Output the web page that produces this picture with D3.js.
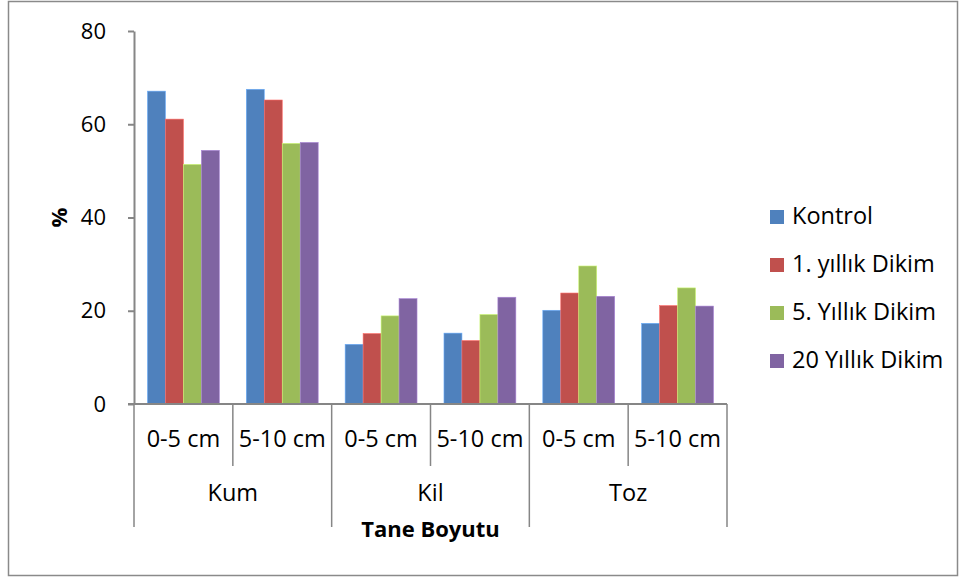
<!DOCTYPE html>
<html>
<head>
<meta charset="utf-8">
<script src="https://cdn.jsdelivr.net/npm/d3@7"></script>
<style>
  body { margin: 0; background: #fff; }
  svg { display: block; font-family: 'Open Sans', sans-serif; }
</style>
</head>
<body>
<svg id="chart" width="961" height="578"></svg>
<script>
const groups = ['Kum', 'Kil', 'Toz']
const depths = ['0-5 cm', '5-10 cm']
const seriesNames = ['Kontrol', '1. yıllık Dikim', '5. Yıllık Dikim', '20 Yıllık Dikim']
const kontrol = [67.1, 67.5, 12.8, 15.2, 20.1, 17.3]
const yillik1 = [61.1, 65.2, 15.1, 13.6, 23.8, 21.1]
const yillik5 = [51.4, 55.9, 18.9, 19.2, 29.6, 24.9]
const yillik20 = [54.4, 56.1, 22.6, 22.9, 23.1, 21.0]
const yTicks = [0, 20, 40, 60, 80]

const colors = ['#4F81BD', '#C0504D', '#9BBB59', '#8064A2']
const seriesValues = [kontrol, yillik1, yillik5, yillik20]

// one row per x position (group + depth)
const cats = []
groups.forEach(g => depths.forEach(d => cats.push({ group: g, depth: d, key: g + '|' + d })))
const data = cats.map((c, i) => ({ ...c, values: seriesValues.map(s => s[i]) }))

const svg = d3.select('#chart')
const axisColor = '#868686'

svg.append('rect')
  .attr('x', 8.5).attr('y', 1.5)
  .attr('width', 949).attr('height', 574)
  .attr('fill', 'none').attr('stroke', '#8a8a8a').attr('stroke-width', 1.5)

const plotLeft = 134, plotRight = 727, plotTop = 31, plotBottom = 404

const x0 = d3.scaleBand()
  .domain(cats.map(c => c.key))
  .range([plotLeft, plotRight])

const x1 = d3.scaleBand()
  .domain(d3.range(seriesNames.length))
  .range([0, x0.bandwidth()])
  .paddingOuter(0.75)

const y = d3.scaleLinear()
  .domain([0, 80])
  .range([plotBottom, plotTop])

// bars
svg.append('g')
  .selectAll('g')
  .data(data)
  .join('g')
    .attr('transform', d => 'translate(' + x0(d.key) + ',0)')
  .selectAll('rect')
  .data(d => d.values.map((v, i) => ({ i, v })))
  .join('rect')
    .attr('x', d => x1(d.i))
    .attr('y', d => y(d.v))
    .attr('width', x1.bandwidth())
    .attr('height', d => y(0) - y(d.v))
    .attr('fill', d => colors[d.i])
    .attr('stroke', d => d3.color(colors[d.i]).brighter(0.8))
    .attr('stroke-width', 0.6)

// y axis
const yAxis = svg.append('g')
  .attr('transform', 'translate(' + plotLeft + ',0)')
  .call(d3.axisLeft(y).tickValues(yTicks).tickSize(6).tickPadding(22).tickSizeOuter(0))
yAxis.select('.domain').attr('stroke', axisColor).attr('stroke-width', 2)
yAxis.selectAll('.tick line').attr('stroke', axisColor).attr('stroke-width', 2)
yAxis.selectAll('.tick text').attr('font-size', 22).attr('fill', '#000').attr('font-family', "'Open Sans', sans-serif")

// x axis baseline
svg.append('line')
  .attr('x1', plotLeft - 6).attr('x2', plotRight)
  .attr('y1', plotBottom).attr('y2', plotBottom)
  .attr('stroke', axisColor).attr('stroke-width', 2)

// multi level category dividers
const xg = svg.append('g')
cats.forEach((c, i) => {
  const xs = x0(c.key)
  const isGroupStart = i % depths.length === 0
  xg.append('line')
    .attr('x1', xs).attr('x2', xs)
    .attr('y1', plotBottom).attr('y2', isGroupStart ? 527 : 466)
    .attr('stroke', axisColor).attr('stroke-width', 1.5)
})
xg.append('line')
  .attr('x1', plotRight).attr('x2', plotRight)
  .attr('y1', plotBottom).attr('y2', 527)
  .attr('stroke', axisColor).attr('stroke-width', 1.5)

xg.selectAll('text.depth')
  .data(cats)
  .join('text')
    .attr('class', 'depth')
    .attr('x', d => x0(d.key) + x0.bandwidth() / 2)
    .attr('y', 447)
    .attr('text-anchor', 'middle')
    .attr('font-size', 23.5)
    .text(d => d.depth)

xg.selectAll('text.group')
  .data(groups)
  .join('text')
    .attr('class', 'group')
    .attr('x', g => (x0(g + '|' + depths[0]) + x0(g + '|' + depths[depths.length - 1]) + x0.bandwidth()) / 2)
    .attr('y', 501)
    .attr('text-anchor', 'middle')
    .attr('font-size', 23.5)
    .text(g => g)

// axis titles
svg.append('text')
  .attr('x', 430.5).attr('y', 537)
  .attr('text-anchor', 'middle')
  .attr('font-size', 22).attr('font-weight', 'bold')
  .text('Tane Boyutu')

svg.append('text')
  .attr('transform', 'translate(67,' + (y(40)) + ') rotate(-90)')
  .attr('text-anchor', 'middle')
  .attr('font-size', 22).attr('font-weight', 'bold')
  .text('%')

// legend
const legend = svg.append('g')
  .selectAll('g')
  .data(seriesNames)
  .join('g')
    .attr('transform', (d, i) => 'translate(770,' + (217 + i * 48) + ')')
legend.append('rect')
  .attr('x', 0).attr('y', -7)
  .attr('width', 14).attr('height', 14)
  .attr('fill', (d, i) => colors[i])
legend.append('text')
  .attr('x', 22).attr('y', 7)
  .attr('font-size', 23.5)
  .text(d => d)
</script>
</body>
</html>
